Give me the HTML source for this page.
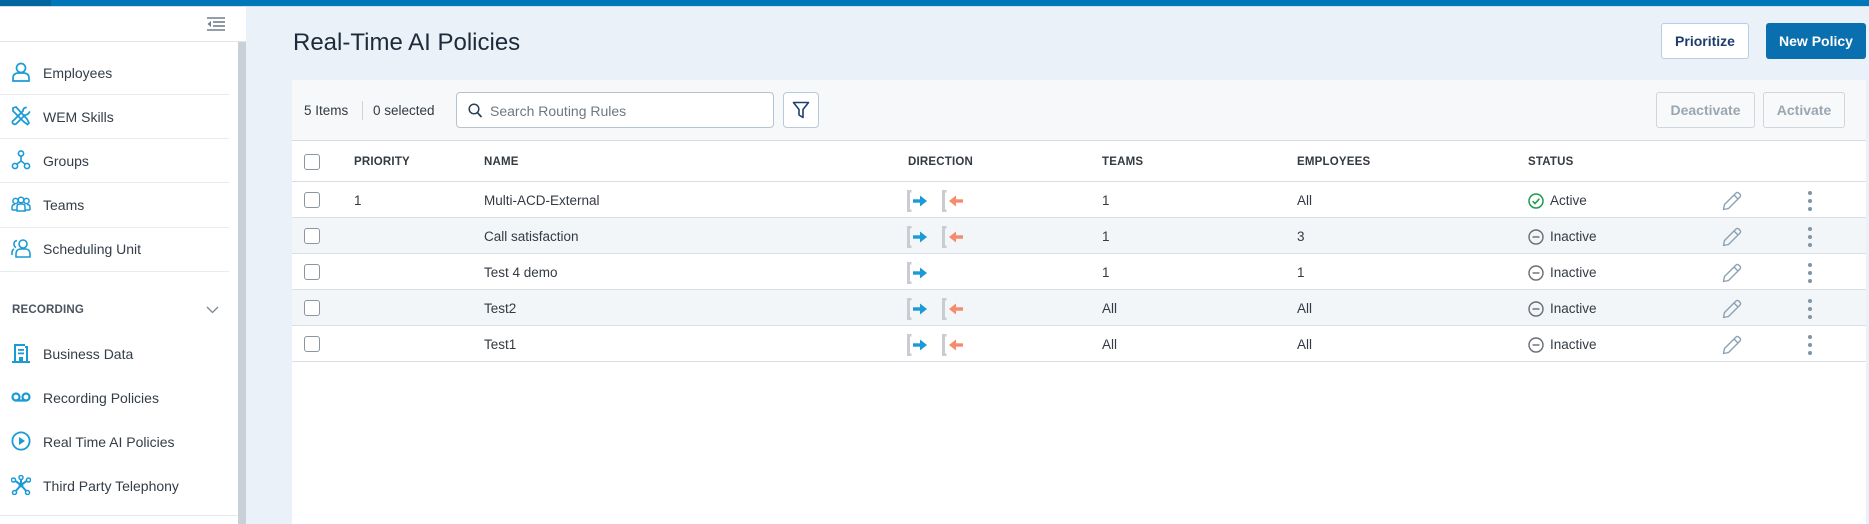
<!DOCTYPE html>
<html><head><meta charset="utf-8">
<style>
*{margin:0;padding:0;box-sizing:border-box;}
html,body{width:1869px;height:524px;overflow:hidden;}
body{position:relative;background:#eaf1f8;font-family:"Liberation Sans",Arial,sans-serif;color:#333b44;}
.a{position:absolute;}
.t{position:absolute;white-space:nowrap;line-height:20px;height:20px;}
.side{font-size:14px;color:#333d47;left:43px;margin-top:1px;}
.sep{position:absolute;left:0;width:229px;height:1px;background:#e9ecef;border-radius:0 2px 2px 0;}
.ic{position:absolute;left:11px;width:20px;height:20px;}
.hd{font-size:11.5px;font-weight:bold;color:#333a42;letter-spacing:0.2px;margin-top:1px;}
.td{font-size:13.5px;color:#333a42;margin-top:2px;}
.cb{position:absolute;left:304px;width:16px;height:16px;border:1px solid #8c959e;border-radius:3px;background:#fff;margin-top:1px;}
.row{position:absolute;left:292px;width:1574px;height:36px;border-bottom:1px solid #d9dfe5;}
.btn{position:absolute;display:flex;align-items:center;justify-content:center;font-size:14px;font-weight:bold;border-radius:3px;}
.r1{margin-top:1px;}
</style></head><body>

<!-- top bar -->
<div class="a" style="left:0;top:0;width:1869px;height:6px;background:#0077b9;"></div>
<div class="a" style="left:0;top:0;width:51px;height:6px;background:#00679f;"></div>
<div class="a" style="left:0;top:6px;width:1869px;height:1px;background:#d6dde3;"></div>

<!-- sidebar -->
<div class="a" style="left:0;top:7px;width:246px;height:35px;background:#fff;border-bottom:1px solid #e1e5e9;"></div>
<div class="a" style="left:0;top:42px;width:238px;height:482px;background:#fff;"></div>
<div class="a" style="left:238px;top:42px;width:8px;height:482px;background:#c9d0d8;"></div>
<svg class="a" style="left:207px;top:17px" width="18" height="14" viewBox="0 0 18 14">
 <g stroke="#6f7f8c" stroke-width="1.6" fill="none"><line x1="0" y1="1" x2="18" y2="1"/><line x1="6" y1="5" x2="18" y2="5"/><line x1="6" y1="9" x2="18" y2="9"/><line x1="0" y1="13" x2="18" y2="13"/></g>
 <path d="M4 4 L0.5 7 L4 10 Z" fill="#6f7f8c"/>
</svg>

<!-- Employees -->
<svg class="ic" style="top:62px" viewBox="0 0 20 20"><g fill="none" stroke="#1a9ad6" stroke-width="1.7"><circle cx="10" cy="6" r="4.5"/><path d="M2 19 V16 Q2 11.5 7 11 H13 Q18 11.5 18 16 V19 Z"/></g></svg>
<div class="t side" style="top:62px">Employees</div>
<div class="sep" style="top:94px"></div>
<!-- WEM Skills -->
<svg class="ic" style="top:106px" viewBox="0 0 20 20"><g fill="none" stroke="#1a9ad6" stroke-width="1.7" stroke-linecap="round"><path d="M2 2 L5 1 L16 13 L18 17 L16.5 18.5 L13 16 L2 5 Z"/><path d="M15 1.5 Q12 2 12 5 L3 14 Q1 15 1.5 17 Q3 19 5 18 L14 9 Q17 9 18.5 6"/></g></svg>
<div class="t side" style="top:106px">WEM Skills</div>
<div class="sep" style="top:138px"></div>
<!-- Groups -->
<svg class="ic" style="top:150px" viewBox="0 0 20 20"><g fill="none" stroke="#1a9ad6" stroke-width="1.6"><circle cx="10" cy="3.5" r="2.6"/><circle cx="4" cy="16" r="2.6"/><circle cx="16" cy="16" r="2.6"/><path d="M10 6 V11 M10 11 L6 14 M10 11 L14 14"/></g></svg>
<div class="t side" style="top:150px">Groups</div>
<div class="sep" style="top:182px"></div>
<!-- Teams -->
<svg class="ic" style="top:194px" viewBox="0 0 20 20"><g fill="none" stroke="#1a9ad6" stroke-width="1.5"><circle cx="4.5" cy="7" r="2.6"/><circle cx="10" cy="6" r="2.8"/><circle cx="15.5" cy="7" r="2.6"/><path d="M1 16 V13 Q1 10.5 4 10.5 M19 16 V13 Q19 10.5 16 10.5 M6 17 V12.5 Q6 10 9 10 H11 Q14 10 14 12.5 V17 Z M1 16 H6 M14 16 H19"/></g></svg>
<div class="t side" style="top:194px">Teams</div>
<div class="sep" style="top:227px"></div>
<!-- Scheduling Unit -->
<svg class="ic" style="top:238px" viewBox="0 0 20 20"><g fill="none" stroke="#1a9ad6" stroke-width="1.6"><circle cx="12" cy="6" r="4"/><path d="M5 19 V16 Q5 11.5 9 11 H15 Q19 11.5 19 16 V19 Z"/><path d="M6 2.5 Q3 3 3 6 Q3 8.5 5 9.5 M3 11 Q1 12 1 15 V17"/></g></svg>
<div class="t side" style="top:238px">Scheduling Unit</div>
<div class="sep" style="top:271px"></div>

<div class="t" style="left:12px;top:300px;font-size:11.5px;font-weight:bold;color:#4a5561;letter-spacing:0.2px;">RECORDING</div>
<svg class="a" style="left:206px;top:306px" width="13" height="8" viewBox="0 0 13 8"><path d="M1 1 L6.5 6.5 L12 1" fill="none" stroke="#7a8793" stroke-width="1.3"/></svg>

<!-- Business Data -->
<svg class="ic" style="top:343px" viewBox="0 0 20 20"><g fill="#1a9ad6"><path d="M3 1 H14 V3 H17 V18 H19 V20 H1 V18 H3 Z M5 3 V18 H8 V14 H12 V18 H15 V5 H14 V3 Z"/><rect x="7" y="6" width="6" height="1.8"/><rect x="7" y="9.5" width="6" height="1.8"/></g></svg>
<div class="t side" style="top:343px">Business Data</div>
<!-- Recording Policies -->
<svg class="ic" style="top:387px" viewBox="0 0 20 20"><g fill="none" stroke="#1a9ad6" stroke-width="2.2"><circle cx="5" cy="10" r="3.5"/><circle cx="15" cy="10" r="3.5"/><line x1="5" y1="13.5" x2="15" y2="13.5"/></g></svg>
<div class="t side" style="top:387px">Recording Policies</div>
<!-- Real Time AI -->
<svg class="ic" style="top:431px" viewBox="0 0 20 20"><circle cx="10" cy="10" r="8.6" fill="none" stroke="#1a9ad6" stroke-width="1.8"/><path d="M8 6 L14 10 L8 14 Z" fill="#1a9ad6"/></svg>
<div class="t side" style="top:431px">Real Time AI Policies</div>
<!-- Third Party -->
<svg class="ic" style="top:475px" viewBox="0 0 20 20"><g stroke="#1a9ad6" stroke-width="2" fill="none"><line x1="10" y1="10" x2="10" y2="2"/><line x1="10" y1="10" x2="3" y2="5"/><line x1="10" y1="10" x2="17" y2="5"/><line x1="10" y1="10" x2="4" y2="17"/><line x1="10" y1="10" x2="16" y2="17"/></g><g fill="#fff" stroke="#1a9ad6" stroke-width="1.5"><circle cx="10" cy="2.5" r="2"/><circle cx="2.5" cy="5" r="2"/><circle cx="17.5" cy="5" r="2"/><circle cx="3.5" cy="17.5" r="2"/><circle cx="16.5" cy="17.5" r="2"/></g><circle cx="10" cy="10" r="2.4" fill="#1a9ad6"/></svg>
<div class="t side" style="top:475px">Third Party Telephony</div>
<div class="a" style="left:0;top:515px;width:238px;height:1px;background:#e6e9ec;"></div>

<!-- main header -->
<div class="a" style="left:293px;top:28px;font-size:24px;line-height:30px;color:#1c2a39;white-space:nowrap;">Real-Time AI Policies</div>
<div class="btn" style="left:1661px;top:23px;width:88px;height:36px;background:#fff;border:1px solid #b7cfe2;color:#1e3d6d;">Prioritize</div>
<div class="btn" style="left:1766px;top:23px;width:100px;height:36px;background:#0a6fae;color:#fff;">New Policy</div>

<!-- panel -->
<div class="a" style="left:292px;top:80px;width:1574px;height:444px;background:#fff;"></div>
<div class="a" style="left:292px;top:80px;width:1574px;height:61px;background:#f6f8fa;border-bottom:1px solid #d6dde3;"></div>
<div class="t td" style="left:304px;top:99px;">5 Items</div>
<div class="a" style="left:362px;top:101px;width:1px;height:19px;background:#cdd3d9;"></div>
<div class="t td" style="left:373px;top:99px;">0 selected</div>
<div class="a" style="left:456px;top:92px;width:318px;height:36px;background:#fff;border:1px solid #b5c3cf;border-radius:4px;"></div>
<svg class="a" style="left:468px;top:103px" width="15" height="16" viewBox="0 0 15 16"><circle cx="6" cy="6" r="4.8" fill="none" stroke="#2b3f55" stroke-width="1.5"/><line x1="9.5" y1="9.7" x2="13.5" y2="14" stroke="#2b3f55" stroke-width="1.7"/></svg>
<div class="t" style="left:490px;top:101px;font-size:14px;color:#6d7882;">Search Routing Rules</div>
<div class="a" style="left:783px;top:92px;width:36px;height:36px;background:#fff;border:1px solid #b7c9da;border-radius:4px;"></div>
<svg class="a" style="left:792px;top:101px" width="18" height="18" viewBox="0 0 18 18"><path d="M1.5 1.5 H16.5 L11 8.5 V16.5 L7 14 V8.5 Z" fill="none" stroke="#1f3f6e" stroke-width="1.6" stroke-linejoin="round"/></svg>
<div class="btn" style="left:1656px;top:92px;width:99px;height:36px;background:#f7f9fa;border:1px solid #d0d6dc;color:#9ba6b1;">Deactivate</div>
<div class="btn" style="left:1763px;top:92px;width:82px;height:36px;background:#f7f9fa;border:1px solid #d0d6dc;color:#9ba6b1;">Activate</div>

<!-- header row -->
<div class="row" style="top:145px;height:37px;border-bottom:1px solid #d6dde3;background:transparent;"></div>
<div class="cb" style="top:153px"></div>
<div class="t hd" style="left:354px;top:151px">PRIORITY</div>
<div class="t hd" style="left:484px;top:151px">NAME</div>
<div class="t hd" style="left:908px;top:151px">DIRECTION</div>
<div class="t hd" style="left:1102px;top:151px">TEAMS</div>
<div class="t hd" style="left:1297px;top:151px">EMPLOYEES</div>
<div class="t hd" style="left:1528px;top:151px">STATUS</div>

<!-- rows -->
<div class="row" style="top:182px;height:36px;"></div>
<div class="row" style="top:218px;height:36px;background:#f3f6f9;"></div>
<div class="row" style="top:254px;height:36px;"></div>
<div class="row" style="top:290px;height:36px;background:#f3f6f9;"></div>
<div class="row" style="top:326px;height:36px;"></div>

<div class="cb" style="top:191px"></div>
<div class="t td" style="left:354px;top:189px">1</div>
<div class="t td" style="left:484px;top:189px">Multi-ACD-External</div>
<div class="t td" style="left:1102px;top:189px">1</div>
<div class="t td" style="left:1297px;top:189px">All</div>

<div class="cb" style="top:227px"></div>
<div class="t td" style="left:484px;top:225px">Call satisfaction</div>
<div class="t td" style="left:1102px;top:225px">1</div>
<div class="t td" style="left:1297px;top:225px">3</div>

<div class="cb" style="top:263px"></div>
<div class="t td" style="left:484px;top:261px">Test 4 demo</div>
<div class="t td" style="left:1102px;top:261px">1</div>
<div class="t td" style="left:1297px;top:261px">1</div>

<div class="cb" style="top:299px"></div>
<div class="t td" style="left:484px;top:297px">Test2</div>
<div class="t td" style="left:1102px;top:297px">All</div>
<div class="t td" style="left:1297px;top:297px">All</div>

<div class="cb" style="top:335px"></div>
<div class="t td" style="left:484px;top:333px">Test1</div>
<div class="t td" style="left:1102px;top:333px">All</div>
<div class="t td" style="left:1297px;top:333px">All</div>

<!-- direction icons -->
<svg class="a r1" style="left:906px;top:189px" width="60" height="22" viewBox="0 0 60 22"><path d="M5.5 1 H2.5 V21 H5.5" fill="none" stroke="#c9cdd1" stroke-width="3"/><path d="M7 11 H16" stroke="#1a9ad6" stroke-width="3.4"/><path d="M14 5.5 L21 11 L14 16.5 Z" fill="#1a9ad6"/><path d="M40.5 1 H37.5 V21 H40.5" fill="none" stroke="#c9cdd1" stroke-width="3"/><path d="M48 11 H57" stroke="#f58b6c" stroke-width="3.4"/><path d="M50 5.5 L43 11 L50 16.5 Z" fill="#f58b6c"/></svg>
<svg class="a r1" style="left:906px;top:225px" width="60" height="22" viewBox="0 0 60 22"><path d="M5.5 1 H2.5 V21 H5.5" fill="none" stroke="#c9cdd1" stroke-width="3"/><path d="M7 11 H16" stroke="#1a9ad6" stroke-width="3.4"/><path d="M14 5.5 L21 11 L14 16.5 Z" fill="#1a9ad6"/><path d="M40.5 1 H37.5 V21 H40.5" fill="none" stroke="#c9cdd1" stroke-width="3"/><path d="M48 11 H57" stroke="#f58b6c" stroke-width="3.4"/><path d="M50 5.5 L43 11 L50 16.5 Z" fill="#f58b6c"/></svg>
<svg class="a r1" style="left:906px;top:261px" width="60" height="22" viewBox="0 0 60 22"><path d="M5.5 1 H2.5 V21 H5.5" fill="none" stroke="#c9cdd1" stroke-width="3"/><path d="M7 11 H16" stroke="#1a9ad6" stroke-width="3.4"/><path d="M14 5.5 L21 11 L14 16.5 Z" fill="#1a9ad6"/></svg>
<svg class="a r1" style="left:906px;top:297px" width="60" height="22" viewBox="0 0 60 22"><path d="M5.5 1 H2.5 V21 H5.5" fill="none" stroke="#c9cdd1" stroke-width="3"/><path d="M7 11 H16" stroke="#1a9ad6" stroke-width="3.4"/><path d="M14 5.5 L21 11 L14 16.5 Z" fill="#1a9ad6"/><path d="M40.5 1 H37.5 V21 H40.5" fill="none" stroke="#c9cdd1" stroke-width="3"/><path d="M48 11 H57" stroke="#f58b6c" stroke-width="3.4"/><path d="M50 5.5 L43 11 L50 16.5 Z" fill="#f58b6c"/></svg>
<svg class="a r1" style="left:906px;top:333px" width="60" height="22" viewBox="0 0 60 22"><path d="M5.5 1 H2.5 V21 H5.5" fill="none" stroke="#c9cdd1" stroke-width="3"/><path d="M7 11 H16" stroke="#1a9ad6" stroke-width="3.4"/><path d="M14 5.5 L21 11 L14 16.5 Z" fill="#1a9ad6"/><path d="M40.5 1 H37.5 V21 H40.5" fill="none" stroke="#c9cdd1" stroke-width="3"/><path d="M48 11 H57" stroke="#f58b6c" stroke-width="3.4"/><path d="M50 5.5 L43 11 L50 16.5 Z" fill="#f58b6c"/></svg>

<!-- status -->
<svg class="a r1" style="left:1528px;top:192px" width="16" height="16" viewBox="0 0 16 16"><circle cx="8" cy="8" r="7" fill="none" stroke="#1d9a4c" stroke-width="1.5"/><path d="M4.6 8.2 L7 10.5 L11.4 5.8" fill="none" stroke="#1d9a4c" stroke-width="1.5"/></svg>
<div class="t td" style="left:1550px;top:189px">Active</div>
<svg class="a r1" style="left:1528px;top:228px" width="16" height="16" viewBox="0 0 16 16"><circle cx="8" cy="8" r="7" fill="none" stroke="#666c72" stroke-width="1.4"/><line x1="4.5" y1="8" x2="11.5" y2="8" stroke="#666c72" stroke-width="1.4"/></svg>
<div class="t td" style="left:1550px;top:225px">Inactive</div>
<svg class="a r1" style="left:1528px;top:264px" width="16" height="16" viewBox="0 0 16 16"><circle cx="8" cy="8" r="7" fill="none" stroke="#666c72" stroke-width="1.4"/><line x1="4.5" y1="8" x2="11.5" y2="8" stroke="#666c72" stroke-width="1.4"/></svg>
<div class="t td" style="left:1550px;top:261px">Inactive</div>
<svg class="a r1" style="left:1528px;top:300px" width="16" height="16" viewBox="0 0 16 16"><circle cx="8" cy="8" r="7" fill="none" stroke="#666c72" stroke-width="1.4"/><line x1="4.5" y1="8" x2="11.5" y2="8" stroke="#666c72" stroke-width="1.4"/></svg>
<div class="t td" style="left:1550px;top:297px">Inactive</div>
<svg class="a r1" style="left:1528px;top:336px" width="16" height="16" viewBox="0 0 16 16"><circle cx="8" cy="8" r="7" fill="none" stroke="#666c72" stroke-width="1.4"/><line x1="4.5" y1="8" x2="11.5" y2="8" stroke="#666c72" stroke-width="1.4"/></svg>
<div class="t td" style="left:1550px;top:333px">Inactive</div>

<!-- pencils & dots -->
<svg class="a r1" style="left:1722px;top:190px" width="20" height="20" viewBox="0 0 20 20"><path d="M1.5 18.5 L2.5 13.5 L14 2 Q15.5 0.8 17 2.2 L17.8 3 Q19.2 4.5 18 6 L6.5 17.5 Z M12 4 L16 8" fill="none" stroke="#8ba1b2" stroke-width="1.4" stroke-linejoin="round"/></svg>
<svg class="a r1" style="left:1722px;top:226px" width="20" height="20" viewBox="0 0 20 20"><path d="M1.5 18.5 L2.5 13.5 L14 2 Q15.5 0.8 17 2.2 L17.8 3 Q19.2 4.5 18 6 L6.5 17.5 Z M12 4 L16 8" fill="none" stroke="#8ba1b2" stroke-width="1.4" stroke-linejoin="round"/></svg>
<svg class="a r1" style="left:1722px;top:262px" width="20" height="20" viewBox="0 0 20 20"><path d="M1.5 18.5 L2.5 13.5 L14 2 Q15.5 0.8 17 2.2 L17.8 3 Q19.2 4.5 18 6 L6.5 17.5 Z M12 4 L16 8" fill="none" stroke="#8ba1b2" stroke-width="1.4" stroke-linejoin="round"/></svg>
<svg class="a r1" style="left:1722px;top:298px" width="20" height="20" viewBox="0 0 20 20"><path d="M1.5 18.5 L2.5 13.5 L14 2 Q15.5 0.8 17 2.2 L17.8 3 Q19.2 4.5 18 6 L6.5 17.5 Z M12 4 L16 8" fill="none" stroke="#8ba1b2" stroke-width="1.4" stroke-linejoin="round"/></svg>
<svg class="a r1" style="left:1722px;top:334px" width="20" height="20" viewBox="0 0 20 20"><path d="M1.5 18.5 L2.5 13.5 L14 2 Q15.5 0.8 17 2.2 L17.8 3 Q19.2 4.5 18 6 L6.5 17.5 Z M12 4 L16 8" fill="none" stroke="#8ba1b2" stroke-width="1.4" stroke-linejoin="round"/></svg>

<svg class="a r1" style="left:1806px;top:189px" width="8" height="22" viewBox="0 0 8 22"><g fill="#7f95a6"><circle cx="4" cy="3" r="2"/><circle cx="4" cy="11" r="2"/><circle cx="4" cy="19" r="2"/></g></svg>
<svg class="a r1" style="left:1806px;top:225px" width="8" height="22" viewBox="0 0 8 22"><g fill="#7f95a6"><circle cx="4" cy="3" r="2"/><circle cx="4" cy="11" r="2"/><circle cx="4" cy="19" r="2"/></g></svg>
<svg class="a r1" style="left:1806px;top:261px" width="8" height="22" viewBox="0 0 8 22"><g fill="#7f95a6"><circle cx="4" cy="3" r="2"/><circle cx="4" cy="11" r="2"/><circle cx="4" cy="19" r="2"/></g></svg>
<svg class="a r1" style="left:1806px;top:297px" width="8" height="22" viewBox="0 0 8 22"><g fill="#7f95a6"><circle cx="4" cy="3" r="2"/><circle cx="4" cy="11" r="2"/><circle cx="4" cy="19" r="2"/></g></svg>
<svg class="a r1" style="left:1806px;top:333px" width="8" height="22" viewBox="0 0 8 22"><g fill="#7f95a6"><circle cx="4" cy="3" r="2"/><circle cx="4" cy="11" r="2"/><circle cx="4" cy="19" r="2"/></g></svg>

</body></html>
